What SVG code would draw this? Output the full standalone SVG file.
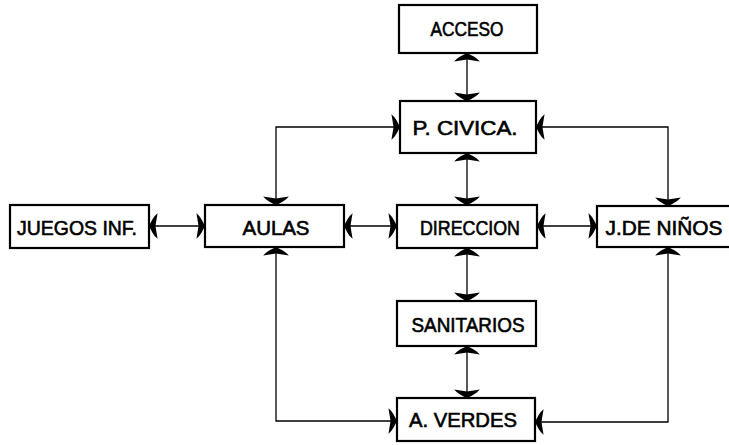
<svg xmlns="http://www.w3.org/2000/svg" width="729" height="445" viewBox="0 0 729 445">
<style>
.box{fill:#fff;stroke:#000;stroke-width:2.2}
.lbl{font-family:"Liberation Sans",Arial,sans-serif;font-weight:normal;font-size:20px;fill:#000;stroke:#000;stroke-width:0.6;text-anchor:middle}
.con{fill:none;stroke:#000;stroke-width:1.3;marker-start:url(#ah);marker-end:url(#ah)}
</style>
<defs>
<marker id="ah" markerUnits="userSpaceOnUse" markerWidth="20" markerHeight="30" viewBox="-12 -14 14 28" refX="0" refY="0" orient="auto-start-reverse">
<path d="M0,0 C-2,-4 -4,-9 -8,-12 L-6,0 L-8,12 C-4,9 -2,4 0,0 Z" fill="#000"/>
</marker>
</defs>
<rect width="729" height="445" fill="#fff"/>
<g id="connectors">
<path class="con" d="M467,53 L467,101"/>
<path class="con" d="M467,153 L467,205"/>
<path class="con" d="M467,248 L467,301"/>
<path class="con" d="M467,346 L467,398"/>
<path class="con" d="M400,127 L276,127 L276,205"/>
<path class="con" d="M536,127 L668,127 L668,206"/>
<path class="con" d="M149,226 L205,226"/>
<path class="con" d="M344,226 L397,226"/>
<path class="con" d="M537,226 L597,226"/>
<path class="con" d="M276,247 L276,421 L397,421"/>
<path class="con" d="M668,247 L668,422 L535,422"/>
</g>
<g id="acceso"><rect class="box" x="399" y="5" width="138" height="48"/><text class="lbl" x="467" y="36" textLength="73" lengthAdjust="spacingAndGlyphs">ACCESO</text></g>
<g id="pcivica"><rect class="box" x="400" y="101" width="136" height="52"/><text class="lbl" x="465" y="135" textLength="105" lengthAdjust="spacingAndGlyphs">P. CIVICA.</text></g>
<g id="juegos"><rect class="box" x="10" y="205" width="139" height="43"/><text class="lbl" x="77" y="235" textLength="120" lengthAdjust="spacingAndGlyphs">JUEGOS INF.</text></g>
<g id="aulas"><rect class="box" x="205" y="205" width="139" height="42"/><text class="lbl" x="276" y="235" textLength="67" lengthAdjust="spacingAndGlyphs">AULAS</text></g>
<g id="direccion"><rect class="box" x="397" y="205" width="140" height="43"/><text class="lbl" x="470" y="235" textLength="100" lengthAdjust="spacingAndGlyphs">DIRECCION</text></g>
<g id="jninos"><rect class="box" x="597" y="206" width="145" height="41"/><text class="lbl" x="664" y="235" textLength="117" lengthAdjust="spacingAndGlyphs">J.DE NIÑOS</text></g>
<g id="sanitarios"><rect class="box" x="397" y="301" width="139" height="45"/><text class="lbl" x="468" y="332" textLength="113" lengthAdjust="spacingAndGlyphs">SANITARIOS</text></g>
<g id="averdes"><rect class="box" x="397" y="398" width="138" height="43"/><text class="lbl" x="463" y="427" textLength="108" lengthAdjust="spacingAndGlyphs">A. VERDES</text></g>
</svg>
